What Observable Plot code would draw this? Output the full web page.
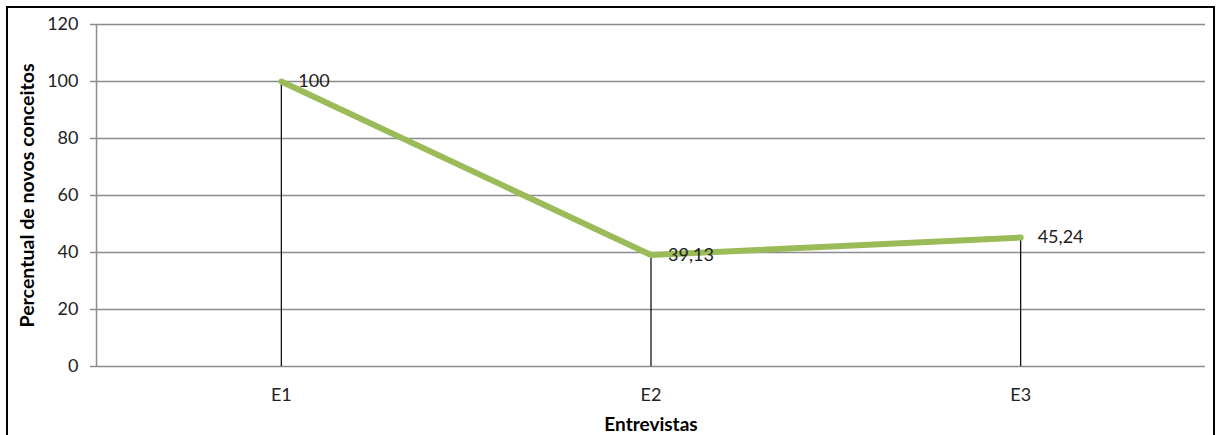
<!DOCTYPE html>
<html>
<head>
<meta charset="utf-8">
<script src="https://cdn.jsdelivr.net/npm/d3@7"></script>
<script src="https://cdn.jsdelivr.net/npm/@observablehq/plot@0.6"></script>
<style>
  html, body { margin: 0; padding: 0; background: #fff; overflow: hidden; }
  #wrap { position: relative; width: 1217px; height: 435px; }
  #borda { position: absolute; left: 6px; top: 6px; width: 1209px; height: 445px;
           border: 2.5px solid #000; box-sizing: border-box; pointer-events: none; }
  #chart { position: absolute; left: 0; top: 0; }
</style>
</head>
<body>
<div id="wrap">
  <div id="chart"></div>
  <div id="borda"></div>
</div>
<script>
// Entrevistas e percentual de novos conceitos em cada uma
const entrevistas = ["E1", "E2", "E3"];
const percentual = [100, 39.13, 45.24];
const rotulos = ["100", "39,13", "45,24"];
const ticksY = [0, 20, 40, 60, 80, 100, 120];

const dados = entrevistas.map((e, i) => ({ i, entrevista: e, valor: percentual[i], rotulo: rotulos[i] }));

const grade = "#8c8c8c";

const grafico = Plot.plot({
  width: 1217,
  height: 435,
  marginLeft: 96,
  marginRight: 12,
  marginTop: 24,
  marginBottom: 69,
  style: { fontFamily: "Lato, sans-serif", background: "transparent" },
  x: { type: "linear", domain: [-0.5, entrevistas.length - 0.5] },
  y: { domain: [0, 120] },
  marks: [
    Plot.gridY(ticksY, { stroke: grade, strokeOpacity: 1, strokeWidth: 1.5 }),
    Plot.axisY(ticksY, { tickSize: 6, tickPadding: 12, stroke: grade, strokeWidth: 1.5,
                         fontSize: 18, fill: "#222", label: null }),
    // linha do eixo vertical
    Plot.ruleX([-0.5], { stroke: grade, strokeWidth: 1.5 }),
    Plot.axisX(dados.map(d => d.i), { tickSize: 0, tickPadding: 22, tickFormat: i => entrevistas[i],
                                      fontSize: 18, fill: "#222", label: null }),
    // linhas de projeção até o eixo
    Plot.ruleX(dados, { x: "i", y1: 0, y2: "valor", stroke: "#000", strokeWidth: 1.2 }),
    Plot.line(dados, { x: "i", y: "valor", stroke: "#9BBB59", strokeWidth: 6,
                       strokeLinecap: "round", strokeLinejoin: "round" }),
    Plot.text(dados, { x: "i", y: "valor", text: "rotulo", dx: 17, textAnchor: "start",
                       fontSize: 18, fill: "#222" }),
    Plot.text(["Percentual de novos conceitos"], { text: d => d, frameAnchor: "left", dx: -69, rotate: -90,
                       textAnchor: "middle", lineAnchor: "middle",
                       fontWeight: "bold", fontSize: 19.6, fill: "#000" }),
    Plot.text(["Entrevistas"], { text: d => d, frameAnchor: "bottom", dy: 58,
                       textAnchor: "middle", lineAnchor: "middle",
                       fontWeight: "bold", fontSize: 19, fill: "#000" })
  ]
});

document.getElementById("chart").appendChild(grafico);
</script>
</body>
</html>
